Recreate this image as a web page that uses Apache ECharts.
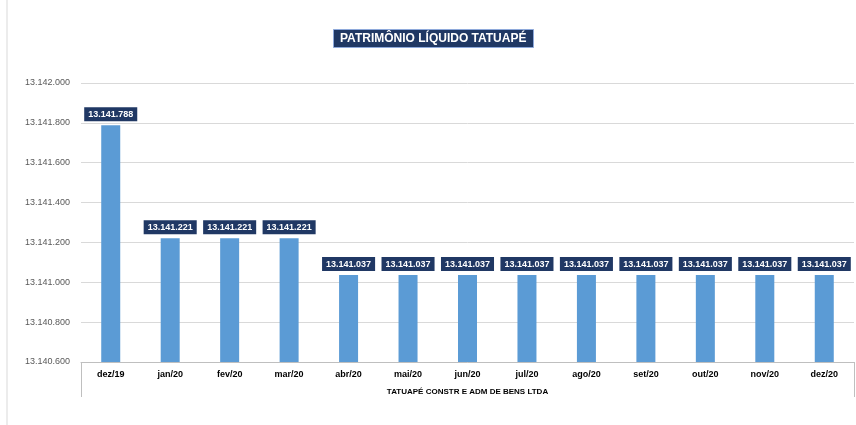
<!DOCTYPE html>
<html>
<head>
<meta charset="utf-8">
<script src="https://cdn.jsdelivr.net/npm/echarts@6/dist/echarts.min.js"></script>
<style>html,body{margin:0;padding:0;background:#fff}#c{width:856px;height:425px}</style>
</head>
<body>
<div id="c"></div>
<script>
const categories = ['dez/19','jan/20','fev/20','mar/20','abr/20','mai/20','jun/20','jul/20','ago/20','set/20','out/20','nov/20','dez/20'];
const values = [13141788,13141221,13141221,13141221,13141037,13141037,13141037,13141037,13141037,13141037,13141037,13141037,13141037];
const groupLabel = ['TATUAPÉ CONSTR E ADM DE BENS LTDA'];
const titleText = 'PATRIMÔNIO LÍQUIDO TATUAPÉ';
const yMin = 13140600, yMax = 13142000, yStep = 200;

function fmt(v){ return String(Math.round(v)).replace(/\B(?=(\d{3})+(?!\d))/g,'.'); }
const FONT = 'Liberation Sans';
const chart = echarts.init(document.getElementById('c'));
chart.setOption({
  animation:false,
  textStyle:{fontFamily:FONT},
  title:{
    text:titleText, left:333, top:29,
    backgroundColor:'#203864', padding:[4,7,3,7],
    borderColor:'#8EA9DB', borderWidth:1,
    textStyle:{color:'#fff', fontSize:12, fontWeight:'bold', fontFamily:FONT}
  },
  graphic:[{type:'line', shape:{x1:7,y1:0,x2:7,y2:425}, style:{stroke:'#D9D9D9', lineWidth:1}}],
  grid:{left:81, right:2, top:83, bottom:63, containLabel:false},
  xAxis:[{
    type:'category', data:categories, position:'bottom',
    axisLine:{lineStyle:{color:'#BFBFBF'}},
    axisTick:{show:false},
    axisLabel:{color:'#000', fontSize:9, fontWeight:'bold', margin:8, fontFamily:FONT}
  },{
    type:'category', data:groupLabel, position:'bottom',
    axisLine:{show:false},
    axisTick:{show:true, length:35, lineStyle:{color:'#BFBFBF'}},
    axisLabel:{color:'#000', fontSize:8, fontWeight:'bold', margin:26, fontFamily:FONT}
  }],
  yAxis:{
    type:'value', min:yMin, max:yMax, interval:yStep,
    axisLine:{show:false}, axisTick:{show:false},
    splitLine:{lineStyle:{color:'#D9D9D9'}},
    axisLabel:{color:'#595959', fontSize:9, margin:11, formatter:fmt, fontFamily:FONT}
  },
  series:[{
    type:'bar', data:values, xAxisIndex:0, barWidth:19,
    itemStyle:{color:'#5B9BD5'},
    label:{show:true, position:'top', distance:4, formatter:p=>fmt(p.value),
      backgroundColor:'#203864', color:'#fff', fontWeight:'bold', fontSize:9,
      padding:[3,4,2,4], fontFamily:FONT}
  }]
});
</script>
</body>
</html>
